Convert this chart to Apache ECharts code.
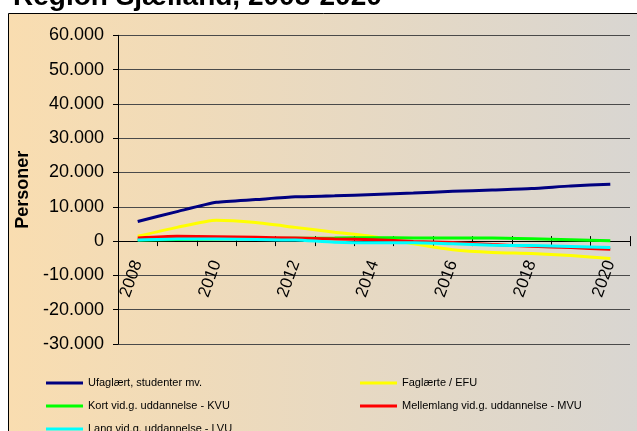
<!DOCTYPE html>
<html>
<head>
<meta charset="utf-8">
<script src="https://cdn.jsdelivr.net/npm/echarts@6/dist/echarts.min.js"></script>
<style>html,body{margin:0;padding:0;background:#fff}#c{width:637px;height:431px}</style>
</head>
<body>
<div id="c"></div>
<script>
const years = ['2008','2009','2010','2011','2012','2013','2014','2015','2016','2017','2018','2019','2020'];
const ufaglaert = [5700, 8600, 11300, 12100, 12900, 13200, 13600, 14000, 14500, 14900, 15300, 16100, 16600];
const faglaerte = [1400, 4000, 6100, 5400, 4000, 2600, 1300, -800, -2500, -3300, -3600, -4200, -5100];
const kvu = [300, 500, 600, 700, 800, 900, 1000, 900, 900, 900, 700, 400, 100];
const mvu = [900, 1400, 1300, 1100, 900, 600, 400, -100, -400, -1000, -1500, -1900, -2400];
const lvu = [300, 600, 600, 500, 300, -300, -500, -500, -800, -1200, -1300, -1600, -1900];
const seriesNames = ['Ufaglært, studenter mv.', 'Faglærte / EFU', 'Kort vid.g. uddannelse - KVU', 'Mellemlang vid.g. uddannelse - MVU', 'Lang vid.g. uddannelse - LVU'];
const seriesColors = ['#000080', '#FFFF00', '#00FF00', '#FF0000', '#00FFFF'];
const seriesData = [ufaglaert, faglaerte, kvu, mvu, lvu];
const yMin = -30000, yMax = 60000;

const chart = echarts.init(document.getElementById('c'), null, {renderer: 'canvas'});
const fmt = v => {
  const s = Math.abs(v).toString().replace(/\B(?=(\d{3})+(?!\d))/g, '.');
  return (v < 0 ? '-' : '') + s;
};
const legendText = {fontFamily: 'Arial, "Liberation Sans", sans-serif', fontSize: 11, lineHeight: 13, color: '#000'};
const H = 431, gTop = 35.3, gBottom = 87;
const gH = H - gTop - gBottom;
const zeroY = gTop + gH * yMax / (yMax - yMin);
const mainGrid = {left: 118, right: 7, top: gTop, bottom: gBottom, containLabel: false};
const axisGrid = {left: 118, right: 7, top: gTop, bottom: H - zeroY, containLabel: false};
chart.setOption({
  backgroundColor: '#fff',
  animation: false,
  graphic: [
    {type: 'rect', z: -10, shape: {x: 8.5, y: 13.5, width: 700, height: 500},
     style: {fill: new echarts.graphic.LinearGradient(0, 0, 1, 0, [{offset: 0, color: '#F9DDB0'}, {offset: 1, color: '#D5D5D5'}]), stroke: '#000', lineWidth: 1}},
    {type: 'text', z: 10, x: 13, y: 11,
     style: {text: 'Region Sjælland, 2008-2020', font: 'bold 28px Arial, "Liberation Sans", sans-serif', fill: '#000', verticalAlign: 'bottom'}}
  ],
  grid: [mainGrid, Object.assign({}, axisGrid), Object.assign({}, axisGrid)],
  legend: [
    {orient: 'vertical', left: 46, top: 376.5, height: 120, padding: 0, itemWidth: 37, itemHeight: 3, itemGap: 10, icon: 'rect',
     data: [seriesNames[0], seriesNames[2], seriesNames[4]], textStyle: legendText},
    {orient: 'vertical', left: 360, top: 376.5, height: 120, padding: 0, itemWidth: 37, itemHeight: 3, itemGap: 10, icon: 'rect',
     data: [seriesNames[1], seriesNames[3]], textStyle: legendText}
  ],
  xAxis: [
    {type: 'category', gridIndex: 0, data: years, boundaryGap: true, show: false},
    {type: 'category', gridIndex: 1, data: years, boundaryGap: true, position: 'bottom',
     axisLine: {show: true, onZero: false, lineStyle: {color: '#000', width: 1}},
     axisTick: {show: true, interval: 0, length: 5, lineStyle: {color: '#000'}},
     axisLabel: {interval: 1, rotate: 70, margin: 20, fontFamily: 'Arial, "Liberation Sans", sans-serif', fontSize: 17, color: '#000'},
     splitLine: {show: false}},
    {type: 'category', gridIndex: 2, data: years, boundaryGap: true, position: 'bottom',
     axisLine: {show: false, onZero: false},
     axisTick: {show: true, inside: true, interval: 0, length: 5, lineStyle: {color: '#000'}},
     axisLabel: {show: false}, splitLine: {show: false}}
  ],
  yAxis: [
    {type: 'value', gridIndex: 0, min: yMin, max: yMax, interval: 10000,
    name: 'Personer', nameLocation: 'middle', nameGap: 83, nameRotate: 90,
    nameTextStyle: {fontFamily: 'Arial, "Liberation Sans", sans-serif', fontWeight: 'bold', fontSize: 18, color: '#000'},
    axisLine: {show: true, lineStyle: {color: '#000', width: 1}},
    axisTick: {show: true, length: 5, lineStyle: {color: '#000'}},
    axisLabel: {formatter: fmt, margin: 14, fontFamily: 'Arial, "Liberation Sans", sans-serif', fontSize: 18, color: '#000'},
    splitLine: {show: true, lineStyle: {color: '#4a4a4a', width: 1}}},
    {type: 'value', gridIndex: 1, min: 0, max: 1, show: false},
    {type: 'value', gridIndex: 2, min: 0, max: 1, show: false}
  ],
  series: seriesData.map((d, i) => ({
    name: seriesNames[i], type: 'line', data: d, xAxisIndex: 0, yAxisIndex: 0,
    showSymbol: false, symbol: 'none', smooth: 0.2, z: 3,
    lineStyle: {color: seriesColors[i], width: 3}, itemStyle: {color: seriesColors[i]}
  }))
});
</script>
</body>
</html>
